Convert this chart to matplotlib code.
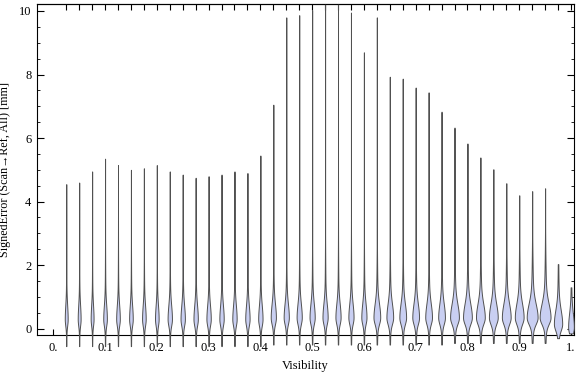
import numpy as np
import matplotlib.pyplot as plt

# violin charts of signed error per visibility bin
visibility = np.round(np.arange(1, 41) * 0.025, 3)

# upper end of each distribution (mm)
top = [4.55, 4.6, 4.95, 5.35, 5.15, 5.0, 5.05, 5.15, 4.95, 4.85,
       4.75, 4.8, 4.85, 4.95, 4.9, 5.45, 7.05, 9.8, 9.87, 10.03,
       10.2, 10.2, 9.95, 8.7, 9.8, 7.93, 7.87, 7.59, 7.44, 6.83,
       6.33, 5.83, 5.39, 5.02, 4.58, 4.2, 4.33, 4.42, 2.03, 1.3]
# lower end
bottom = [-0.55] * 16 + [-0.5] * 14 + [-0.45] * 8 + [-0.3, -0.15]
# where the bulb is widest
mode = [0.3] * 16 + [0.35] * 22 + [0.15, 0.05]
# half width of the bulb (x units)
bulb = [0.0028] * 3 + [0.0035] * 5 + [0.0042] * 8 + [0.005] * 8 + \
       [0.0065] * 6 + [0.0085] * 6 + [0.0105] * 2 + [0.008, 0.0055]

tick_pos = np.round(np.arange(0, 11) * 0.1, 1)
tick_lab = ['0.'] + ['%.1f' % t for t in tick_pos[1:-1]] + ['1.']

plt.rcParams['font.family'] = ['Liberation Serif', 'DejaVu Serif']

fig, ax = plt.subplots(figsize=(5.76, 3.77), dpi=100)
fig.subplots_adjust(left=0.0642, right=0.9965, bottom=0.1114, top=0.9894)

for x, lo, hi, m, w in zip(visibility, bottom, top, mode, bulb):
    y = np.linspace(lo, hi, 400)
    s = np.where(y < m, 0.2, 0.42)
    d = w * (0.8 * np.exp(-0.5 * ((y - m) / s) ** 2)
             + 0.2 * np.exp(-0.5 * ((y - m) / (3 * s)) ** 2))
    ax.fill_betweenx(y, x - d, x + d, facecolor='#c9cff2',
                     edgecolor='#505050', lw=0.7, clip_on=False, zorder=3)

ax.set_xlim(-0.0315, 1.0058)
ax.set_ylim(-0.2, 10.22)

ax.set_xticks(tick_pos)
ax.set_xticklabels(tick_lab)
ax.set_yticks([0, 2, 4, 6, 8, 10])
ax.set_yticks(np.arange(0, 10.5, 0.5), minor=True)
ax.tick_params(axis='x', which='major', direction='in', length=4, width=0.8,
               labelsize=9, pad=5, top=False)
ax.tick_params(axis='y', which='major', direction='in', length=5, width=0.8,
               labelsize=9, pad=4, right=True)
ax.tick_params(axis='y', which='minor', direction='in', length=2.5,
               width=0.6, right=True)

sec = ax.secondary_xaxis('top')
sec.set_xticks(visibility)
sec.tick_params(direction='in', length=4, width=0.8, labeltop=False)
sec.spines['top'].set_linewidth(0.8)

for sp in ax.spines.values():
    sp.set_linewidth(0.8)

ax.set_xlabel('Visibility', fontsize=9, labelpad=4)
ax.set_ylabel('SignedError (Scan→Ref, All) [mm]', fontsize=8.7, labelpad=6)

fig.savefig('out.png', dpi=100)
